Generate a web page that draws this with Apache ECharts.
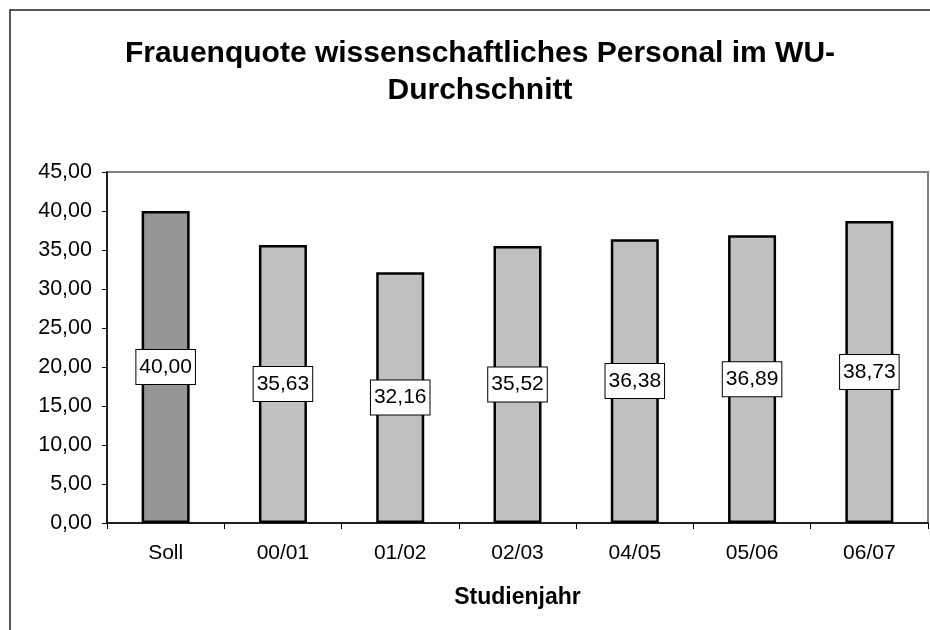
<!DOCTYPE html>
<html>
<head>
<meta charset="utf-8">
<script src="https://cdn.jsdelivr.net/npm/echarts@6/dist/echarts.min.js"></script>
<style>
  html, body { margin: 0; padding: 0; background: #fff; }
  #chart { width: 930px; height: 630px; }
</style>
</head>
<body>
<div id="chart"></div>
<script>
  // Daten
  var categories = ['Soll', '00/01', '01/02', '02/03', '04/05', '05/06', '06/07'];
  var values = [40.00, 35.63, 32.16, 35.52, 36.38, 36.89, 38.73];
  var barColors = ['#969696', '#c0c0c0', '#c0c0c0', '#c0c0c0', '#c0c0c0', '#c0c0c0', '#c0c0c0'];

  function comma(v) {
    return Number(v).toFixed(2).replace('.', ',');
  }

  var myChart = echarts.init(document.getElementById('chart'));
  var option = {
    backgroundColor: '#fff',
    animation: false,
    textStyle: { fontFamily: 'Liberation Sans, Arial, sans-serif' },
    title: {
      text: 'Frauenquote wissenschaftliches Personal im WU-\nDurchschnitt',
      left: 475,
      top: 30,
      textAlign: 'center',
      textStyle: {
        fontSize: 30,
        fontWeight: 'bold',
        color: '#000',
        lineHeight: 37,
        fontFamily: 'Liberation Sans, Arial, sans-serif'
      }
    },
    graphic: [{
      type: 'rect',
      shape: { x: 10, y: 10, width: 940, height: 640 },
      style: { fill: 'none', stroke: '#222', lineWidth: 1.5 },
      silent: true
    }],
    grid: {
      left: 107,
      top: 172,
      right: 2,
      bottom: 107,
      show: true,
      borderColor: '#808080',
      borderWidth: 2,
      containLabel: false
    },
    xAxis: {
      type: 'category',
      data: categories,
      name: 'Studienjahr',
      nameLocation: 'middle',
      nameGap: 63,
      nameTextStyle: { fontSize: 23, fontWeight: 'bold', color: '#000' },
      axisLine: { lineStyle: { color: '#000', width: 1.5 } },
      axisTick: { show: true, alignWithLabel: false, length: 6, lineStyle: { color: '#000' } },
      axisLabel: { fontSize: 21, color: '#000', margin: 20 }
    },
    yAxis: {
      type: 'value',
      min: 0,
      max: 45,
      interval: 5,
      axisLine: { show: true, lineStyle: { color: '#000', width: 1.5 } },
      axisTick: { show: true, length: 5, lineStyle: { color: '#000' } },
      splitLine: { show: false },
      axisLabel: {
        fontSize: 21.5,
        color: '#000',
        margin: 15,
        formatter: function (v) { return comma(v); }
      }
    },
    series: [{
      type: 'bar',
      barWidth: 48,
      data: values.map(function (v, i) {
        return { value: v, itemStyle: { color: barColors[i] } };
      }),
      itemStyle: { borderColor: '#000', borderWidth: 2.5 },
      label: {
        show: true,
        position: 'inside',
        fontSize: 21,
        color: '#000',
        backgroundColor: '#fff',
        borderColor: '#000',
        borderWidth: 1,
        padding: [7, 3, 6, 3],
        formatter: function (p) { return comma(p.value); }
      }
    }]
  };
  myChart.setOption(option);
</script>
</body>
</html>
